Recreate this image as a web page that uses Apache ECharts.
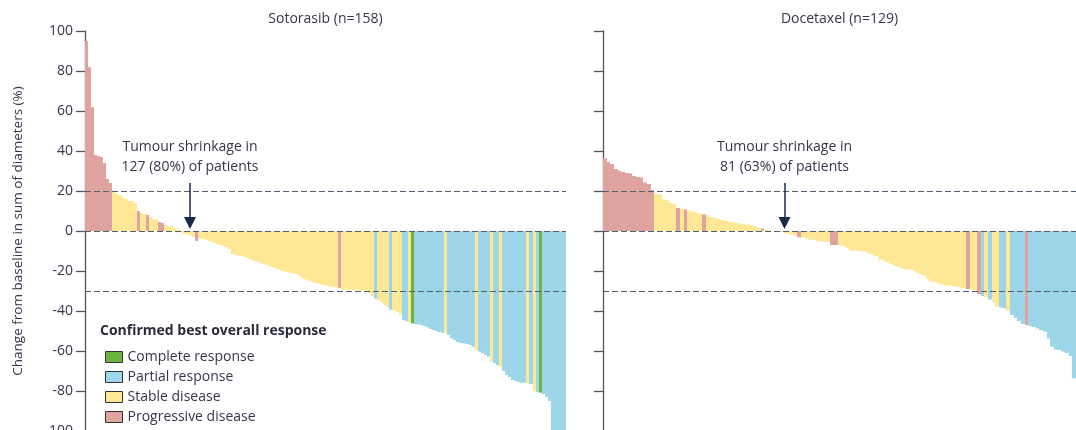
<!DOCTYPE html>
<html>
<head>
<meta charset="utf-8">
<script src="https://cdn.jsdelivr.net/npm/echarts@6/dist/echarts.min.js"></script>
<style>
html,body{margin:0;padding:0;background:#fff;}
#chart{width:1076px;height:430px;}
</style>
</head>
<body>
<div id="chart"></div>
<script>
// ---------- DATA ----------
const responseNames = { CR: 'Complete response', PR: 'Partial response', SD: 'Stable disease', PD: 'Progressive disease' };
const responseOrder = ['CR', 'PR', 'SD', 'PD'];
const responseColors = { CR: '#6cb33f', PR: '#9dd6e8', SD: '#fee895', PD: '#dfa3a0' };

const panelTitles = ['Sotorasib (n=158)', 'Docetaxel (n=129)'];
const annotationTexts = ['Tumour shrinkage in\n127 (80%) of patients', 'Tumour shrinkage in\n81 (63%) of patients'];
const yTicks = { min: -100, max: 100, interval: 20 };
const referenceLines = [20, 0, -30];

const sotorasibValues = [95,82,62,38,37.5,37,34,26,24,
20,18.5,18,16.5,16,15,15,14,
10,9,8.5,8,7,6,5.5,4.5,4,
3,2.5,2.3,1.5,1,-0.5,-1.2,-1.7,-2.3,-3,
-5,-3.5,-4,-4.3,-4.8,-5.3,-6,-6.5,-7,-7.5,-8,-9,-11.5,-12,-12.3,-12.5,-13,-13.3,-14,-14.8,-15.3,-16,-16.5,-17,-17.5,-18,-18.7,-19.3,-19.8,-20.3,-20.7,-21,-21.2,-21.5,-22.3,-23.7,-24.2,-24.8,-25.3,-25.8,-26.2,-26.5,-27,-27.3,-27.8,-28,-28.2,
-28.4,-29.3,-29.3,-29.4,-29.5,-29.5,-29.6,-29.7,-29.8,-30,-31,-32.5,
-33.8,-34.5,-35.5,-37,-38,-39.3,-39.5,-40.5,-42,-44.5,-45.2,-45.8,-46.2,
-46.5,-46.7,-47,-47.5,-48.2,-49,-49.5,-50,-50.5,-50.8,-51,
-52,-53.7,-54.5,-55.5,-56,-56.2,-56.5,-57,-57.8,-59.5,
-60.3,-61,-62,-62.8,-65.3,-66,-67,-67.8,
-70,-72,-73,-74.5,-75,-75.5,-75.8,-75.8,-76,-76.5,-80.2,-80.5,-80.8,
-81.5,-83,-85,-100,-100,-100,-100,-100];

const sotorasibResponse = [
'PD','PD','PD','PD','PD','PD','PD','PD','PD',
'SD','SD','SD','SD','SD','SD','SD','SD',
'PD','SD','SD','PD','SD','SD','SD','PD','PD',
'SD','SD','SD','SD','SD','SD','SD','SD','SD','SD',
'PD',
'SD','SD','SD','SD','SD','SD','SD','SD','SD','SD','SD','SD','SD','SD','SD','SD','SD','SD','SD','SD','SD','SD','SD','SD','SD','SD','SD','SD','SD','SD','SD','SD','SD','SD','SD','SD','SD','SD','SD','SD','SD','SD','SD','SD','SD','SD',
'PD',
'SD','SD','SD','SD','SD','SD','SD','SD','SD','SD','SD',
'PR','SD','SD','SD','SD','PR','SD','SD','SD','PR','PR','SD','CR',
'PR','PR','PR','PR','PR','PR','PR','PR','PR','PR','SD',
'PR','PR','PR','PR','PR','PR','PR','PR','PR','SD',
'PR','PR','PR','PR','SD','PR','PR','SD',
'PR','PR','PR','PR','PR','PR','PR','PR','SD','PR','SD','PR','CR',
'PR','PR','PR','PR','PR','PR','PR','PR'];

const docetaxelValues = [36.3,34.5,33.5,31,30.2,29.5,29,28.8,27.5,27,26.8,24.3,23.5,20.5,
18.5,18.3,16,15.5,14,13.5,
11.5,11,10.8,10.2,9.7,9.2,8.8,8.3,
7.8,7,6.5,6,5.5,5,4.6,4.3,4,3.7,3.4,3.2,2.8,2.3,1.5,
1.2,0.5,0.3,0.2,0,-0.5,-1,-1.3,-1.8,-2.3,
-3.2,-3.2,-3.5,-4.3,-4.5,-5,-5.2,-5.3,-5.5,
-7,-7,-7.3,-7.5,-8.7,-9.7,-9.8,-9.9,-10.2,-10.3,-11.2,-11.8,-12.5,-14.2,-14.8,-15.5,-16.5,-17.5,-17.8,-18.8,-19.2,-19.2,-19.5,-20.8,-21.5,-22.3,-24,-25.3,-25.5,-26.3,-26.8,-27.2,-27.3,-27.6,-27.8,-28.3,-28.7,
-29,-29.3,-29.6,-31.5,-32.5,-33.2,-34.3,-35.5,-37.8,-38.3,-38.7,-39.8,-42,-43.5,-45,-46.5,-47,
-47.5,-48,-48.7,-49.5,-50.3,-53.7,-57.8,-59.3,-59.5,-60.3,-61,-62.5,-73.7];

const docetaxelResponse = [
'PD','PD','PD','PD','PD','PD','PD','PD','PD','PD','PD','PD','PD','PD',
'SD','SD','SD','SD','SD','SD',
'PD','SD','PD','SD','SD','SD','SD','PD',
'SD','SD','SD','SD','SD','SD','SD','SD','SD','SD','SD','SD','SD','SD','SD',
'PD','SD','SD','SD','SD','SD','SD','SD','SD','SD',
'PD','SD','SD','SD','SD','SD','SD','SD','SD',
'PD','PD','SD','SD','SD','SD','SD','SD','SD','SD','SD','SD','SD','SD','SD','SD','SD','SD','SD','SD','SD','SD','SD','SD','SD','SD','SD','SD','SD','SD','SD','SD','SD','SD','SD','SD','SD',
'PD','SD','SD','PD','PR','SD','PR','SD','SD','PR','PR','SD','PR','PR','PR','PR','PD',
'PR','PR','PR','PR','PR','PR','PR','PR','PR','PR','PR','PR','PR'];

// annotation anchors (category index, value)
const arrowIndex = [34, 49];
const arrowFrom = 24, arrowTo = 4;
const textValue = 37;

// ---------- CHART ----------
const panels = [
  { values: sotorasibValues, resp: sotorasibResponse, grid: { left: 85, top: 31, width: 481, height: 400 } },
  { values: docetaxelValues, resp: docetaxelResponse, grid: { left: 603, top: 31, width: 473, height: 400 } }
];
const FONT = 'Open Sans';
const TXT = '#34364a';

function barRenderer(color) {
  return function (params, api) {
    const idx = api.value(0), val = api.value(1);
    const base = api.coord([idx, 0]);
    const top = api.coord([idx, val]);
    const w = api.size([1, 0])[0];
    const x0 = Math.round(base[0] - w / 2), x1 = Math.round(base[0] + w / 2);
    const y0 = Math.min(base[1], top[1]), y1 = Math.max(base[1], top[1]);
    return { type: 'rect', shape: { x: x0, y: y0, width: x1 - x0, height: y1 - y0 }, style: { fill: color } };
  };
}

const grids = [], xAxes = [], yAxes = [], series = [], graphics = [];
panels.forEach((p, pi) => {
  const cats = p.values.map((_, i) => 'P' + (pi + 1) + '-' + (i + 1));
  grids.push(Object.assign({ outerBoundsMode: 'none', containLabel: false }, p.grid));
  xAxes.push({ type: 'category', gridIndex: pi, data: cats, show: false, boundaryGap: true });
  yAxes.push({
    type: 'value', gridIndex: pi, min: yTicks.min, max: yTicks.max, interval: yTicks.interval,
    axisLine: { show: true, lineStyle: { color: '#555', width: 1.3 } },
    axisTick: { show: true, length: 9, lineStyle: { color: '#555', width: 1.3 } },
    axisLabel: { show: pi === 0, fontFamily: FONT, fontSize: 14, color: TXT, margin: 12 },
    splitLine: { show: false },
    name: pi === 0 ? 'Change from baseline in sum of diameters (%)' : '',
    nameLocation: 'middle', nameGap: 60, nameRotate: 90,
    nameTextStyle: { fontFamily: FONT, fontSize: 13.5, color: TXT }
  });
  responseOrder.forEach((code) => {
    const data = [];
    p.values.forEach((v, i) => { if (p.resp[i] === code) data.push([i, v]); });
    const s = {
      name: responseNames[code], type: 'custom', xAxisIndex: pi, yAxisIndex: pi,
      renderItem: barRenderer(responseColors[code]),
      encode: { x: 0, y: 1 },
      data: data,
      itemStyle: { color: responseColors[code] },
      silent: true, animation: false, clip: true
    };
    if (code === 'PD') {
      const c = cats[arrowIndex[pi]];
      s.markLine = {
        silent: true, animation: false, symbol: 'none', z: 10,
        label: { show: false },
        lineStyle: { type: [6, 3], color: '#4f5f6e', width: 1.2 },
        data: referenceLines.map(y => ({ yAxis: y })).concat([[
          { coord: [c, arrowFrom], symbol: 'none', lineStyle: { type: 'solid', color: '#1b2a48', width: 1.5 } },
          { coord: [c, arrowTo], symbol: 'triangle', symbolSize: [12, 12], lineStyle: { type: 'solid', color: '#1b2a48', width: 1.5 } }
        ]])
      };
      s.markPoint = {
        silent: true, animation: false, symbol: 'circle', symbolSize: 0,
        label: { show: true, position: 'inside', formatter: annotationTexts[pi], fontFamily: FONT, fontSize: 14, lineHeight: 20, color: TXT, align: 'center' },
        data: [{ coord: [c, textValue] }]
      };
    }
    series.push(s);
  });
  graphics.push({
    type: 'text', x: p.grid.left + p.grid.width / 2, y: 19,
    style: { text: panelTitles[pi], font: '14px "' + FONT + '"', fill: TXT, textAlign: 'center', textVerticalAlign: 'middle' }
  });
});
graphics.push({
  type: 'text', x: 100, y: 331,
  style: { text: 'Confirmed best overall response', font: 'bold 14px "' + FONT + '"', fill: '#2a2c3a', textAlign: 'left', textVerticalAlign: 'middle' }
});

const chart = echarts.init(document.getElementById('chart'), null, { renderer: 'canvas' });
chart.setOption({
  animation: false,
  grid: grids, xAxis: xAxes, yAxis: yAxes, series: series,
  legend: {
    data: responseOrder.map(c => responseNames[c]),
    orient: 'vertical', left: 100, top: 344, itemGap: 4,
    itemWidth: 17, itemHeight: 11, icon: 'rect',
    itemStyle: { borderColor: '#333', borderWidth: 1 },
    textStyle: { fontFamily: FONT, fontSize: 14, color: TXT, lineHeight: 16 },
    selectedMode: false
  },
  graphic: graphics
});
</script>
</body>
</html>
